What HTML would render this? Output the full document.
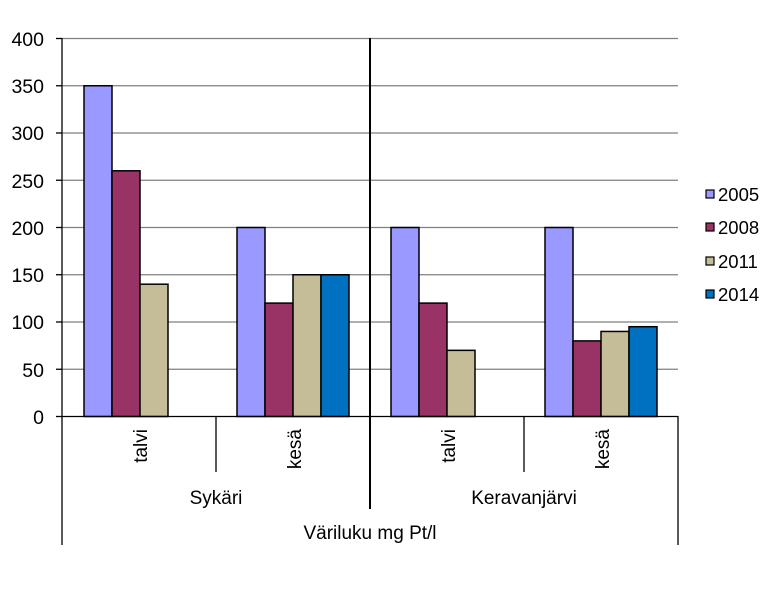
<!DOCTYPE html><html><head><style>body{margin:0;background:#fff}svg{font-family:"Liberation Sans",sans-serif}</style></head><body>
<svg width="780" height="600" xmlns="http://www.w3.org/2000/svg">
<g stroke="#808080" stroke-width="1.3">
<line x1="62" x2="678" y1="38.5" y2="38.5"/><line x1="62" x2="678" y1="85.75" y2="85.75"/><line x1="62" x2="678" y1="133" y2="133"/><line x1="62" x2="678" y1="180.25" y2="180.25"/><line x1="62" x2="678" y1="227.5" y2="227.5"/><line x1="62" x2="678" y1="274.75" y2="274.75"/><line x1="62" x2="678" y1="322" y2="322"/><line x1="62" x2="678" y1="369.25" y2="369.25"/>
</g>
<g stroke="#000" stroke-width="1.5">
<rect x="84" y="85.75" width="28" height="330.75" fill="#9999ff"/>
<rect x="112" y="170.8" width="28" height="245.7" fill="#993366"/>
<rect x="140" y="284.2" width="28" height="132.3" fill="#c4bd97"/>
<rect x="237" y="227.5" width="28" height="189" fill="#9999ff"/>
<rect x="265" y="303.1" width="28" height="113.4" fill="#993366"/>
<rect x="293" y="274.75" width="28" height="141.75" fill="#c4bd97"/>
<rect x="321" y="274.75" width="28" height="141.75" fill="#0070c0"/>
<rect x="391" y="227.5" width="28" height="189" fill="#9999ff"/>
<rect x="419" y="303.1" width="28" height="113.4" fill="#993366"/>
<rect x="447" y="350.35" width="28" height="66.15" fill="#c4bd97"/>
<rect x="545" y="227.5" width="28" height="189" fill="#9999ff"/>
<rect x="573" y="340.9" width="28" height="75.6" fill="#993366"/>
<rect x="601" y="331.45" width="28" height="85.05" fill="#c4bd97"/>
<rect x="629" y="326.7" width="28" height="89.8" fill="#0070c0"/>
</g>
<g stroke="#000" stroke-width="1.3">
<line x1="62" x2="62" y1="38" y2="545"/><line x1="56" x2="62" y1="38.5" y2="38.5"/><line x1="56" x2="62" y1="85.75" y2="85.75"/><line x1="56" x2="62" y1="133" y2="133"/><line x1="56" x2="62" y1="180.25" y2="180.25"/><line x1="56" x2="62" y1="227.5" y2="227.5"/><line x1="56" x2="62" y1="274.75" y2="274.75"/><line x1="56" x2="62" y1="322" y2="322"/><line x1="56" x2="62" y1="369.25" y2="369.25"/><line x1="56" x2="62" y1="416.5" y2="416.5"/>
<line x1="62" x2="678" y1="416.5" y2="416.5"/>
<line x1="216" x2="216" y1="416" y2="472"/><line x1="524" x2="524" y1="416" y2="472"/>
<line x1="678" x2="678" y1="416" y2="545"/>
</g>
<line x1="370" x2="370" y1="38" y2="509" stroke="#000" stroke-width="2"/>
<g font-size="19.5" fill="#000" text-anchor="end">
<text x="44" y="46">400</text><text x="44" y="93">350</text><text x="44" y="140">300</text><text x="44" y="188">250</text><text x="44" y="235">200</text><text x="44" y="282">150</text><text x="44" y="329">100</text><text x="44" y="377">50</text><text x="44" y="424">0</text>
</g>
<g font-size="19" fill="#000">
<text transform="translate(147,429) rotate(-90)" text-anchor="end">talvi</text>
<text transform="translate(301,429) rotate(-90)" text-anchor="end">kesä</text>
<text transform="translate(455,429) rotate(-90)" text-anchor="end">talvi</text>
<text transform="translate(609,429) rotate(-90)" text-anchor="end">kesä</text>
<text x="216" y="504" text-anchor="middle">Sykäri</text>
<text x="524" y="504" text-anchor="middle">Keravanjärvi</text>
<text x="370" y="539" text-anchor="middle">Väriluku mg Pt/l</text>
</g>
<g stroke="#000" stroke-width="1.2">
<rect x="706" y="190" width="8" height="8" fill="#9999ff"/>
<rect x="706" y="223" width="8" height="8" fill="#993366"/>
<rect x="706" y="257" width="8" height="8" fill="#c4bd97"/>
<rect x="706" y="290" width="8" height="8" fill="#0070c0"/>
</g>
<g font-size="18.5" fill="#000">
<text x="718" y="201">2005</text><text x="718" y="234">2008</text><text x="718" y="268">2011</text><text x="718" y="301">2014</text>
</g>
</svg></body></html>
